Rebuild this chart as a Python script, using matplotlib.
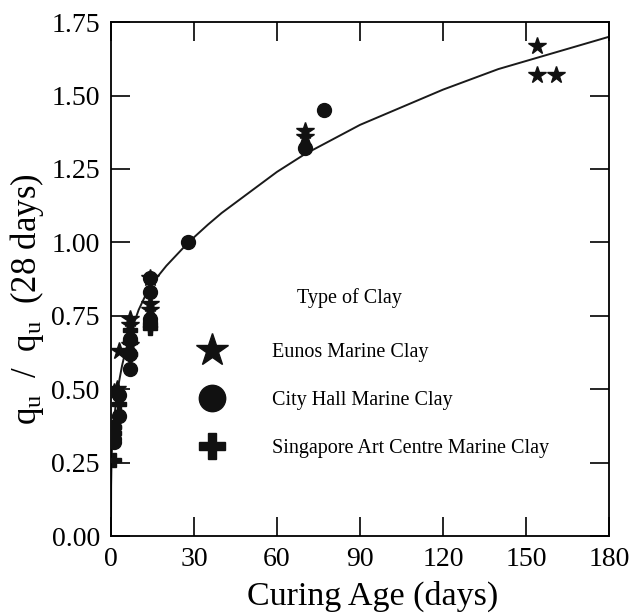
import matplotlib
matplotlib.use("Agg")
import matplotlib.pyplot as plt

plt.rcParams['font.family'] = ['Liberation Serif', 'DejaVu Serif']
plt.rcParams['mathtext.fontset'] = 'custom'
plt.rcParams['mathtext.rm'] = 'Liberation Serif'
plt.rcParams['mathtext.it'] = 'Liberation Serif:italic'

# Eunos Marine Clay (stars)
eunos_days = [1, 2, 3, 7, 7, 7, 14, 14, 14, 70, 70, 154, 154, 161]
eunos_ratio = [0.49, 0.50, 0.63, 0.74, 0.72, 0.65, 0.88, 0.79, 0.77, 1.38, 1.36, 1.67, 1.57, 1.57]

# City Hall Marine Clay (circles)
city_days = [1, 1, 1, 3, 3, 7, 7, 7, 14, 14, 14, 14, 28, 70, 77]
city_ratio = [0.32, 0.33, 0.37, 0.41, 0.48, 0.57, 0.67, 0.62, 0.88, 0.83, 0.74, 0.73, 1.00, 1.32, 1.45]

# Singapore Art Centre Marine Clay (plus)
sac_days = [1, 1, 1, 3, 7, 7, 7, 14, 14]
sac_ratio = [0.26, 0.35, 0.37, 0.45, 0.62, 0.66, 0.70, 0.71, 0.72]

# fitted trend line
fit_days = [0.0, 0.05, 0.2, 0.5, 1, 2, 3, 4, 5, 7, 10, 14, 20, 28, 35, 40, 50, 60, 70, 80, 90,
            100, 120, 140, 160, 180]
fit_ratio = [0.0, 0.17, 0.26, 0.33, 0.39, 0.47, 0.53, 0.58, 0.62, 0.69, 0.77, 0.85, 0.92, 1.00,
             1.06, 1.10, 1.17, 1.24, 1.30, 1.35, 1.40, 1.44, 1.52, 1.59, 1.645, 1.70]

xticks = [0, 30, 60, 90, 120, 150, 180]
yticks = [0.00, 0.25, 0.50, 0.75, 1.00, 1.25, 1.50, 1.75]

fig = plt.figure(figsize=(6.36, 6.14), dpi=100)
ax = fig.add_axes([0.1745, 0.127, 0.783, 0.837])

ax.plot(fit_days, fit_ratio, color='#1a1a1a', linewidth=1.4, zorder=2)

ax.plot(eunos_days, eunos_ratio, linestyle='none', marker='*', markersize=13,
        color='#111111', label='Eunos Marine Clay', zorder=3)
ax.plot(city_days, city_ratio, linestyle='none', marker='o', markersize=10,
        color='#111111', label='City Hall Marine Clay', zorder=3)
ax.plot(sac_days, sac_ratio, linestyle='none', marker='P', markersize=10,
        color='#111111', label='Singapore Art Centre Marine Clay', zorder=3)

ax.set_xlim(0, 180)
ax.set_ylim(0, 1.75)
ax.set_xticks(xticks)
ax.set_yticks(yticks)
ax.set_yticklabels(['%.2f' % v for v in yticks])
ax.tick_params(direction='in', length=14, width=1.2, top=True, right=True,
               labelsize=20, pad=8)
for s in ax.spines.values():
    s.set_linewidth(1.3)

ax.set_xlabel('Curing Age (days)', fontsize=24.5)
ax.xaxis.set_label_coords(0.525, -0.087)
ax.set_ylabel(r'$\mathregular{q_u\ \ /\ \ q_u\ \ (28\ days)}$', fontsize=25)
ax.yaxis.set_label_coords(-0.13, 0.46)

ax.text(0.478, 0.463, 'Type of Clay', transform=ax.transAxes, fontsize=14.5,
        ha='center', va='center')
ax.legend(loc='upper left', bbox_to_anchor=(0.142, 0.395), frameon=False,
          fontsize=14.5, markerscale=1.9, handletextpad=2.0, labelspacing=1.42,
          borderpad=0)

fig.savefig('out.png', dpi=100)
